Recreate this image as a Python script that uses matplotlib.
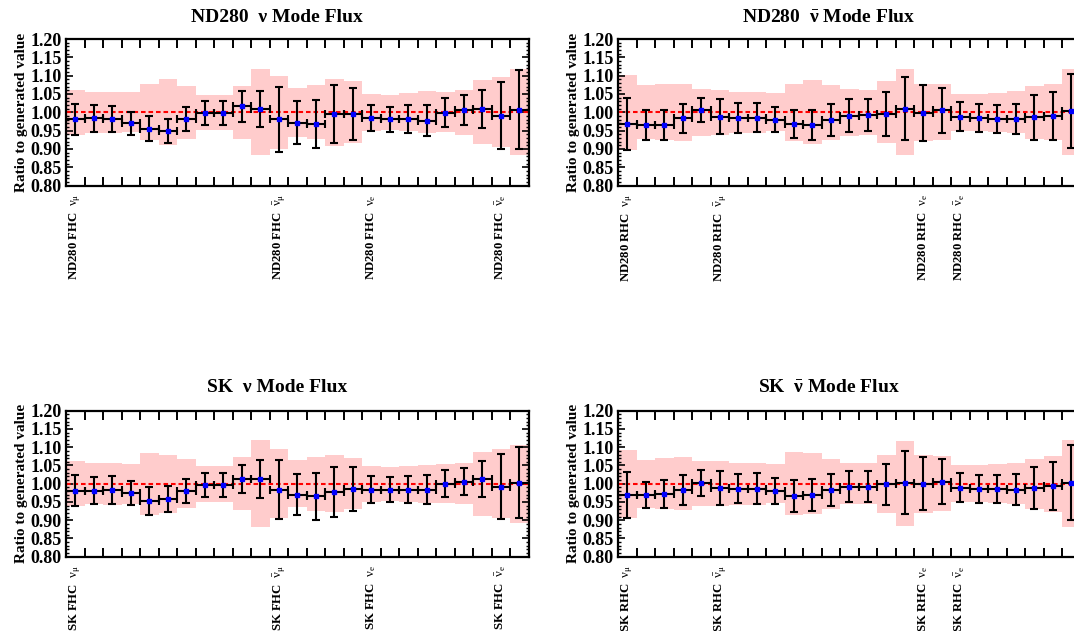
import numpy as np
import matplotlib
matplotlib.use("Agg")
import matplotlib.pyplot as plt
from matplotlib.ticker import MultipleLocator, FixedLocator, NullFormatter, FormatStrFormatter
from matplotlib.transforms import blended_transform_factory

plt.rcParams["font.family"] = ["Liberation Serif", "DejaVu Serif"]
plt.rcParams["mathtext.fontset"] = "custom"
plt.rcParams["mathtext.rm"] = "Liberation Serif"
plt.rcParams["mathtext.bf"] = "Liberation Serif:bold"
plt.rcParams["mathtext.it"] = "Liberation Serif:italic"

# ---- post-fit flux parameters (ratio to generated value) ----
nd_fhc_val = [0.981, 0.983, 0.981, 0.970, 0.955, 0.949, 0.981, 0.999, 0.999, 1.016, 1.010,
              0.981, 0.972, 0.968, 0.995, 0.995, 0.983, 0.981, 0.981, 0.977, 0.999, 1.007,
              1.009, 0.991, 1.007]
nd_fhc_err = [0.0425, 0.0365, 0.035, 0.032, 0.0335, 0.0335, 0.0335, 0.0325, 0.0325, 0.042, 0.049,
              0.0885, 0.059, 0.0655, 0.079, 0.0705, 0.0355, 0.034, 0.0375, 0.042, 0.039, 0.0405,
              0.0525, 0.092, 0.1075]
nd_fhc_prior = [0.062, 0.056, 0.056, 0.055, 0.076, 0.090, 0.073, 0.048, 0.048, 0.073, 0.117,
                0.100, 0.067, 0.074, 0.091, 0.085, 0.050, 0.048, 0.052, 0.058, 0.055, 0.062,
                0.088, 0.095, 0.118]

nd_rhc_val = [0.968, 0.965, 0.965, 0.983, 1.006, 0.988, 0.985, 0.985, 0.980, 0.968, 0.965,
              0.980, 0.990, 0.993, 0.995, 1.009, 0.998, 1.005, 0.988, 0.984, 0.981, 0.981,
              0.986, 0.989, 1.004]
nd_rhc_err = [0.070, 0.041, 0.040, 0.040, 0.0325, 0.0475, 0.0405, 0.039, 0.035, 0.039, 0.040,
              0.0435, 0.045, 0.0445, 0.0605, 0.086, 0.0765, 0.062, 0.0395, 0.038, 0.0375, 0.041,
              0.0605, 0.0655, 0.1015]
nd_rhc_prior = [0.103, 0.074, 0.076, 0.078, 0.064, 0.061, 0.056, 0.056, 0.052, 0.078, 0.087,
                0.075, 0.064, 0.062, 0.085, 0.117, 0.078, 0.076, 0.051, 0.050, 0.053, 0.057,
                0.072, 0.077, 0.117]

sk_fhc_val = [0.981, 0.981, 0.983, 0.975, 0.953, 0.958, 0.981, 0.996, 0.996, 1.013, 1.013,
              0.984, 0.970, 0.966, 0.978, 0.986, 0.984, 0.984, 0.984, 0.984, 1.000, 1.006,
              1.013, 0.992, 1.003]
sk_fhc_err = [0.0415, 0.036, 0.038, 0.0325, 0.039, 0.036, 0.033, 0.033, 0.033, 0.039, 0.0525,
              0.0805, 0.057, 0.0645, 0.069, 0.0605, 0.037, 0.034, 0.037, 0.0395, 0.0375, 0.0365,
              0.050, 0.0885, 0.098]
sk_fhc_prior = [0.062, 0.056, 0.057, 0.055, 0.085, 0.080, 0.067, 0.049, 0.049, 0.072, 0.119,
                0.094, 0.065, 0.074, 0.078, 0.070, 0.049, 0.047, 0.049, 0.052, 0.054, 0.056,
                0.088, 0.095, 0.107]

sk_rhc_val = [0.969, 0.969, 0.971, 0.983, 1.002, 0.988, 0.986, 0.986, 0.981, 0.967, 0.970,
              0.983, 0.992, 0.992, 0.999, 1.003, 1.000, 1.006, 0.989, 0.985, 0.985, 0.984,
              0.989, 0.994, 1.003]
sk_rhc_err = [0.063, 0.0365, 0.038, 0.041, 0.0365, 0.047, 0.040, 0.042, 0.0355, 0.044, 0.0435,
              0.0435, 0.0415, 0.0435, 0.056, 0.086, 0.073, 0.0605, 0.040, 0.0375, 0.0375, 0.042,
              0.0575, 0.066, 0.1025]
sk_rhc_prior = [0.093, 0.066, 0.070, 0.073, 0.062, 0.062, 0.057, 0.057, 0.053, 0.087, 0.084,
                0.069, 0.056, 0.056, 0.079, 0.116, 0.079, 0.076, 0.051, 0.050, 0.053, 0.056,
                0.068, 0.077, 0.119]

# first bin of each flavour block
fhc_label_bins = [0, 11, 16, 23]
rhc_label_bins = [0, 5, 16, 18]
flavours = [r"$\mathrm{\nu_{\mu}}$", r"$\mathrm{\bar{\nu}_{\mu}}$",
            r"$\mathrm{\nu_{e}}$", r"$\mathrm{\bar{\nu}_{e}}$"]

titles = ["ND280  \u03bd Mode Flux", r"ND280  $\mathbf{\bar{\nu}}$ Mode Flux",
          "SK  \u03bd Mode Flux", r"SK  $\mathbf{\bar{\nu}}$ Mode Flux"]
label_prefix = ["ND280 FHC", "ND280 RHC", "SK FHC", "SK RHC"]

W, H = 1074, 631
fig = plt.figure(figsize=(W / 100, H / 100), dpi=100)


def px_axes(x0, y0, x1, y1):
    return fig.add_axes([x0 / W, 1 - y1 / H, (x1 - x0) / W, (y1 - y0) / H])


def panel(ax, title, vals, errs, prior, label_bins, prefix, title_x, title_y):
    n = len(vals)
    edges = np.arange(n + 1)
    centers = edges[:-1] + 0.5
    prior = np.asarray(prior)
    ax.stairs(1 + prior, edges, baseline=1 - prior, fill=True,
              color="#ffcccc", lw=0, zorder=1)
    ax.axhline(1.0, color="red", lw=1.5, ls=(0, (2.2, 1.4)), zorder=2)
    ax.errorbar(centers, vals, xerr=0.5, yerr=errs, fmt="s", ms=3.4,
                mfc="blue", mec="blue", ecolor="black", elinewidth=1.5,
                capsize=2.6, capthick=1.5, zorder=3)
    ax.set_xlim(0, n)
    ax.set_ylim(0.8, 1.2)
    ax.xaxis.set_major_locator(FixedLocator(edges))
    ax.xaxis.set_major_formatter(NullFormatter())
    ax.yaxis.set_major_locator(MultipleLocator(0.05))
    ax.yaxis.set_minor_locator(MultipleLocator(0.01))
    ax.yaxis.set_major_formatter(FormatStrFormatter("%.2f"))
    ax.tick_params(axis="x", which="major", direction="in", top=True, bottom=True,
                   length=6.3, width=1.4)
    ax.tick_params(axis="y", which="major", direction="in", left=True, right=True,
                   length=5, width=1.2, labelsize=13, pad=3)
    ax.tick_params(axis="y", which="minor", direction="in", left=True, right=True,
                   length=2.5, width=1.0)
    for lab in ax.get_yticklabels():
        lab.set_fontweight("bold")
    for sp in ax.spines.values():
        sp.set_linewidth(1.6)
    ax.set_ylabel("Ratio to generated value", fontsize=11, fontweight="bold",
                  labelpad=2)
    fig.text(title_x / W, 1 - title_y / H, title, ha="center", va="center",
             fontsize=14, fontweight="bold")
    tr = blended_transform_factory(ax.transData, ax.transAxes)
    for b, fl in zip(label_bins, flavours):
        ax.text(b + 0.5, -0.058, prefix + "  " + fl, transform=tr, rotation=90,
                ha="center", va="top", fontsize=9.2, fontweight="bold")


specs = [
    ((66, 39, 528.5, 185.5), nd_fhc_val, nd_fhc_err, nd_fhc_prior, fhc_label_bins, 277, 17),
    ((618, 39, 1080.5, 185.5), nd_rhc_val, nd_rhc_err, nd_rhc_prior, rhc_label_bins, 829, 17),
    ((66, 410.7, 528.5, 556.7), sk_fhc_val, sk_fhc_err, sk_fhc_prior, fhc_label_bins, 277, 388),
    ((618, 410.7, 1080.5, 556.7), sk_rhc_val, sk_rhc_err, sk_rhc_prior, rhc_label_bins, 829, 388),
]

for i, (box, v, e, p, lb, tx, ty) in enumerate(specs):
    ax = px_axes(*box)
    panel(ax, titles[i], v, e, p, lb, label_prefix[i], tx, ty)

fig.savefig("out.png", dpi=100)
